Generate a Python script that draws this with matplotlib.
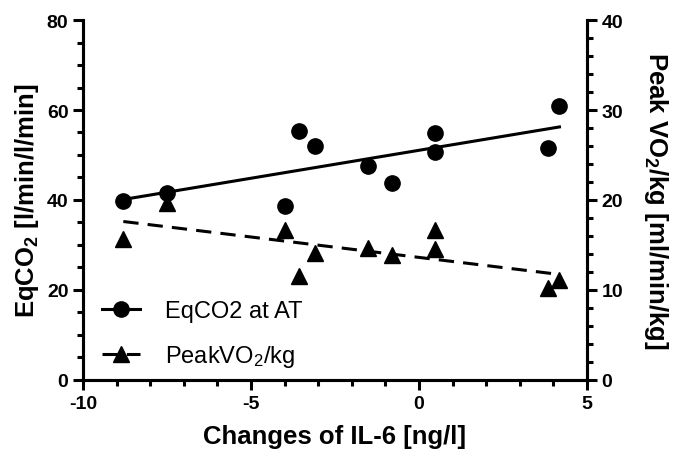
import numpy as np
import matplotlib
matplotlib.use("Agg")
import matplotlib.pyplot as plt

plt.rcParams["font.family"] = ["Liberation Sans", "DejaVu Sans"]
plt.rcParams["mathtext.default"] = "regular"
plt.rcParams["axes.unicode_minus"] = False

# data
il6_change = [-8.80, -7.51, -3.99, -3.56, -3.10, -1.51, -0.79, 0.48, 0.48, 3.85, 4.18]
eqco2 = [39.7, 41.5, 38.7, 55.3, 52.1, 47.5, 43.7, 54.8, 50.6, 51.5, 60.9]
peak_vo2 = [15.7, 19.7, 16.7, 11.6, 14.1, 14.7, 13.9, 16.7, 14.6, 10.2, 11.1]

x = np.array(il6_change)

fig = plt.figure(figsize=(6.75, 4.64), dpi=100)
ax = fig.add_axes([0.123, 0.179, 0.7466, 0.7757])
ax2 = ax.twinx()

# regression lines
xs = np.array([x.min(), x.max()])
k1, b1 = np.polyfit(x, eqco2, 1)
k2, b2 = np.polyfit(x, peak_vo2, 1)

ax.plot(xs, k1 * xs + b1, color="black", lw=2.2, zorder=2)
ax.plot(x, eqco2, "o", color="black", ms=11, zorder=3)
ax2.plot(xs, k2 * xs + b2, color="black", lw=2.2, ls=(0, (5, 3)), zorder=2)
ax2.plot(x, peak_vo2, "^", color="black", ms=11, zorder=3)

# legend handles
h1, = ax.plot([], [], "-o", color="black", lw=2.2, ms=11)
h2, = ax.plot([], [], "^", ls=(0, (5, 3)), color="black", lw=2.2, ms=11)
leg = ax.legend([h1, h2], ["EqCO2 at AT", "PeakVO$_2$/kg"], loc="lower left",
                bbox_to_anchor=(-0.004, -0.03), frameon=False, fontsize=17,
                handlelength=1.6, handletextpad=1.05, labelspacing=0.9)

ax.set_xlim(-10, 5)
ax.set_ylim(0, 80)
ax2.set_ylim(0, 40)

ax.set_xticks([-10, -5, 0, 5])
ax.set_xticks(np.arange(-10, 6, 1), minor=True)
ax.set_yticks([0, 20, 40, 60, 80])
ax.set_yticks(np.arange(0, 81, 5), minor=True)
ax2.set_yticks([0, 10, 20, 30, 40])
ax2.set_yticks(np.arange(0, 41, 2), minor=True)

for a in (ax, ax2):
    a.spines["top"].set_visible(False)
    for s in a.spines.values():
        s.set_linewidth(2.2)
    a.tick_params(which="major", length=7, width=2.2, labelsize=14)
    a.tick_params(which="minor", length=4.5, width=2.2)
    for lab in a.get_xticklabels() + a.get_yticklabels():
        lab.set_fontweight("bold")

ax.set_xlabel("Changes of IL-6 [ng/l]", fontsize=18.5, fontweight="bold", labelpad=9)
ax.set_ylabel("EqCO$_2$ [l/min/l/min]", fontsize=18.5, fontweight="bold", labelpad=4)
ax2.set_ylabel("Peak VO$_2$/kg [ml/min/kg]", fontsize=18.5, fontweight="bold",
               rotation=270, labelpad=34)

fig.savefig("out.png", dpi=100)
